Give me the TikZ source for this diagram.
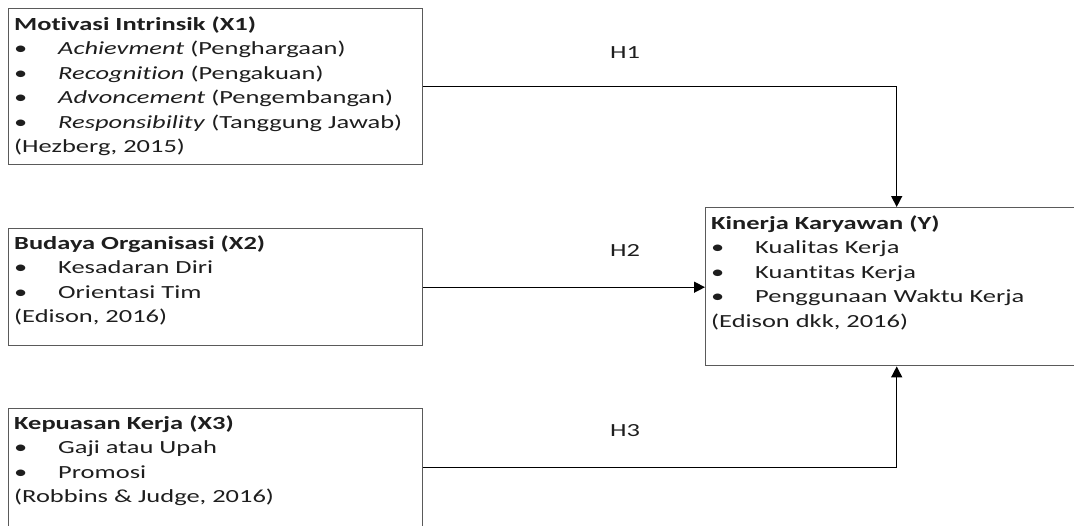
\documentclass[tikz,border=0pt]{standalone}
\usepackage{fontspec}
\setmainfont{Carlito}[Ligatures={NoCommon}]
\usetikzlibrary{arrows.meta}
\definecolor{txt}{RGB}{30,30,30}
\definecolor{boxline}{RGB}{90,90,90}
\newcommand{\itm}[1]{\makebox[30.8pt][l]{\textbullet}#1}
\newcommand{\wide}[1]{\scalebox{1.43}[1]{\begin{tabular}{@{}l@{}}#1\end{tabular}}}
\tikzset{
  box/.style={draw=boxline, line width=1.4pt, rectangle, inner sep=0pt, anchor=north west},
  boxtext/.style={anchor=north west, align=left, inner sep=0pt, text=txt, font=\fontsize{18.5}{24.5}\selectfont},
  conn/.style={draw=black, line width=1.4pt, -{Triangle[length=11pt,width=11pt]}},
  hlab/.style={text=txt, font=\fontsize{18.5}{22}\selectfont, inner sep=0pt}
}
\begin{document}
\begin{tikzpicture}[x=1pt,y=-1pt]
\useasboundingbox (0,0) rectangle (1074,525);
\node[box, minimum width=414pt, minimum height=156pt] (b1) at (8,8) {};
\node[box, minimum width=414pt, minimum height=117pt] (b2) at (8,228) {};
\node[box, minimum width=414pt, minimum height=118pt] (b3) at (8,408) {};
\node[box, minimum width=382pt, minimum height=158pt] (y) at (705,207) {};

\node[boxtext] (t1) at (14,13) {\wide{\textbf{Motivasi Intrinsik (X1)}\\
\itm{\textit{Achievment} (Penghargaan)}\\
\itm{\textit{Recognition} (Pengakuan)}\\
\itm{\textit{Advoncement} (Pengembangan)}\\
\itm{\textit{Responsibility} (Tanggung Jawab)}\\
(Hezberg, 2015)}};

\node[boxtext] (t2) at (14,232) {\wide{\textbf{Budaya Organisasi (X2)}\\
\itm{Kesadaran Diri}\\
\itm{Orientasi Tim}\\
(Edison, 2016)}};

\node[boxtext] (t3) at (14,412) {\wide{\textbf{Kepuasan Kerja (X3)}\\
\itm{Gaji atau Upah}\\
\itm{Promosi}\\
(Robbins \& Judge, 2016)}};

\node[boxtext] (ty) at (711,212) {\wide{\textbf{Kinerja Karyawan (Y)}\\
\itm{Kualitas Kerja}\\
\itm{Kuantitas Kerja}\\
\itm{Penggunaan Waktu Kerja}\\
(Edison dkk, 2016)}};

\draw[conn] (b1.east) -| (y.north);
\draw[conn] (b2.east) -- (b2.east -| y.west);
\draw[conn] (b3.east) -| (y.south);

\node[hlab] (h1) at (625,53) {\scalebox{1.43}[1]{H1}};
\node[hlab] (h2) at (625,250) {\scalebox{1.43}[1]{H2}};
\node[hlab] (h3) at (625,431) {\scalebox{1.43}[1]{H3}};
\end{tikzpicture}
\end{document}
